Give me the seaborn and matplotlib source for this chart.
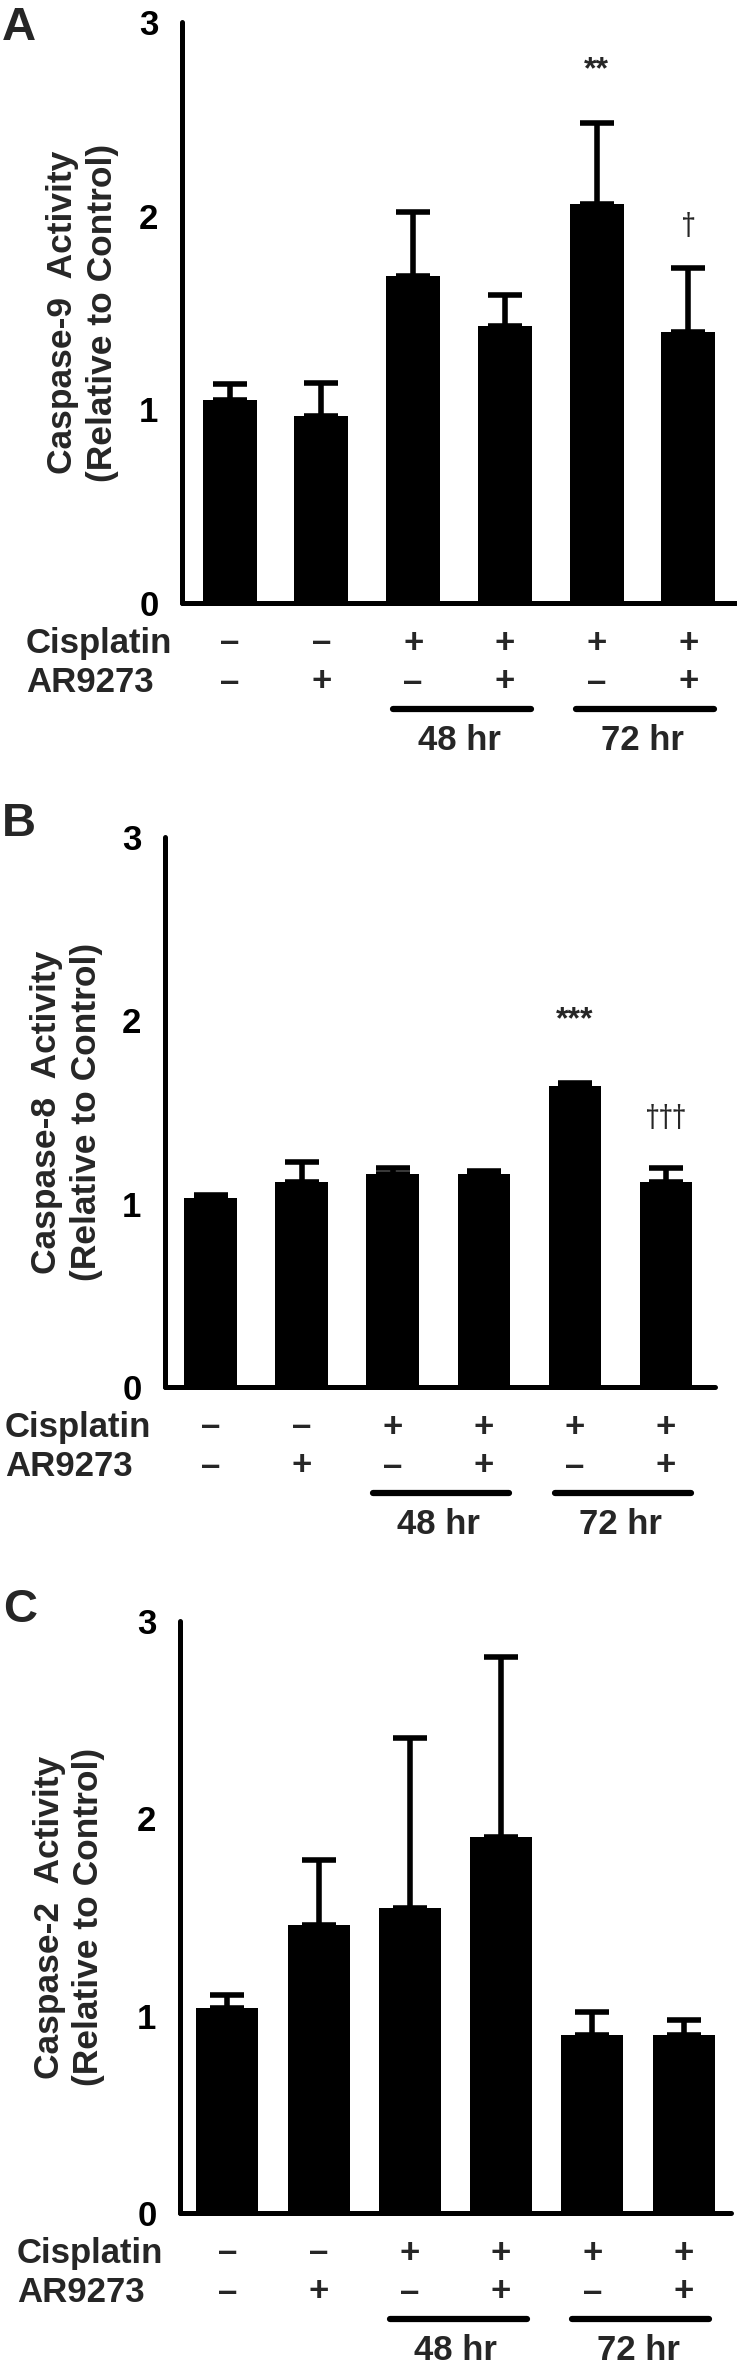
"""Caspase-9 / -8 / -2 activity bar panels (A, B, C)."""
import matplotlib
matplotlib.use("Agg")

import matplotlib.pyplot as plt
import numpy as np
import pandas as pd
import seaborn as sns

# ---------------------------------------------------------------------------
# Data
# ---------------------------------------------------------------------------

groups = ["g1", "g2", "g3", "g4", "g5", "g6"]
cisplatin = ["–", "–", "+", "+", "+", "+"]
ar9273 = ["–", "+", "–", "+", "–", "+"]
time_labels = ["48 hr", "72 hr"]
time_spans = [(2, 3), (4, 5)]

casp9_mean = [1.05, 0.965, 1.69, 1.43, 2.06, 1.40]
casp9_err = [0.08, 0.17, 0.33, 0.16, 0.42, 0.33]
casp9_marks = [(4, "**", 2.75), (5, "†", 1.96)]

casp8_mean = [1.03, 1.12, 1.16, 1.164, 1.64, 1.12]
casp8_err = [0.015, 0.11, 0.035, 0.016, 0.02, 0.075]
casp8_marks = [(4, "***", 2.0), (5, "†††", 1.48)]

casp2_mean = [1.04, 1.46, 1.545, 1.907, 0.90, 0.902]
casp2_err = [0.065, 0.33, 0.86, 0.913, 0.117, 0.076]
casp2_marks = []

yticks = [0, 1, 2, 3]

W, H = 737, 2370
ARIAL = ["Liberation Sans", "DejaVu Sans"]
DAGGER = ["Archivo Narrow", "Liberation Sans", "DejaVu Sans"]

sns.set_style("white")
plt.rcParams["font.family"] = ARIAL


def draw_panel(fig, letter, means, errs, marks, ylabel, box, bar_width,
               xlim, label_x, letter_xy, row_x):
    left, top, right, bottom = box  # pixel coordinates
    ax = fig.add_axes([left / W, 1 - bottom / H, (right - left) / W, (bottom - top) / H])
    ax_h = bottom - top

    df = pd.DataFrame({"group": groups, "value": means})
    sns.barplot(data=df, x="group", y="value", color="black", width=bar_width,
                saturation=1, errorbar=None, ax=ax, zorder=2)
    for p in ax.patches:
        p.set_edgecolor("none")
    x = np.arange(len(groups))
    ax.errorbar(x, means, yerr=[np.zeros(len(errs)), errs], fmt="none",
                ecolor="black", elinewidth=4, capsize=12, capthick=4, zorder=1)

    ax.set_ylim(0, 3)
    ax.set_xlim(*xlim)
    ax.set_yticks(yticks)
    ax.set_xticks([])
    ax.set_xlabel("")
    ax.set_ylabel(ylabel, fontsize=25.5, fontweight="bold", linespacing=1.25)
    ax.yaxis.set_label_coords(label_x, 0.5)
    for s in ["top", "right"]:
        ax.spines[s].set_visible(False)
    for s in ["left", "bottom"]:
        ax.spines[s].set_linewidth(3.6)
        ax.spines[s].set_color("black")
        ax.spines[s].set_capstyle("round")
    ax.tick_params(axis="y", direction="out", length=7, width=3.6, pad=10,
                   labelsize=25, colors="black")
    for t in ax.get_yticklabels():
        t.set_fontweight("bold")

    for i, txt, yv in marks:
        if "*" in txt:
            ax.text(i, yv, txt, ha="center", va="center", fontsize=23, fontweight="bold")
        else:
            ax.text(i, yv, txt, ha="center", va="center", fontsize=21, family=DAGGER)

    row_font = dict(fontsize=25, fontweight="bold", va="center")
    offsets = [40, 79, 106, 138]
    for i in range(len(groups)):
        ax.annotate(cisplatin[i], xy=(i, 0), xycoords=("data", "axes fraction"),
                    xytext=(0, -offsets[0]), textcoords="offset pixels",
                    ha="center", annotation_clip=False, **row_font)
        ax.annotate(ar9273[i], xy=(i, 0), xycoords=("data", "axes fraction"),
                    xytext=(0, -offsets[1]), textcoords="offset pixels",
                    ha="center", annotation_clip=False, **row_font)
    for name, y_off in [("Cisplatin", offsets[0]), ("AR9273", offsets[1])]:
        ax.annotate(name, xy=(row_x / W, 0), xycoords=("figure fraction", "axes fraction"),
                    xytext=(0, -y_off), textcoords="offset pixels",
                    ha="left", annotation_clip=False, **row_font)

    for name, (a, b) in zip(time_labels, time_spans):
        ax.plot([a - 0.22, b + 0.28], [-offsets[2] / ax_h] * 2,
                transform=ax.get_xaxis_transform(), clip_on=False,
                color="black", lw=4.5, solid_capstyle="round")
        ax.annotate(name, xy=((a + b) / 2, 0), xycoords=("data", "axes fraction"),
                    xytext=(0, -offsets[3]), textcoords="offset pixels",
                    ha="center", annotation_clip=False, **row_font)

    fig.text(letter_xy[0] / W, 1 - letter_xy[1] / H, letter, fontsize=34,
             fontweight="bold", ha="left", va="center")
    return ax


fig = plt.figure(figsize=(W / 100, H / 100), dpi=100)

draw_panel(fig, "A", casp9_mean, casp9_err, casp9_marks,
           "Caspase-9  Activity\n(Relative to Control)",
           box=(182, 22, 736, 603), bar_width=0.59, xlim=(-0.52, 5.52),
           label_x=-0.114, letter_xy=(2, 28), row_x=26)
draw_panel(fig, "B", casp8_mean, casp8_err, casp8_marks,
           "Caspase-8  Activity\n(Relative to Control)",
           box=(165, 837, 715, 1387), bar_width=0.575, xlim=(-0.5, 5.54),
           label_x=-0.113, letter_xy=(2, 824), row_x=5)
draw_panel(fig, "C", casp2_mean, casp2_err, casp2_marks,
           "Caspase-2  Activity\n(Relative to Control)",
           box=(180, 1621, 731, 2213), bar_width=0.68, xlim=(-0.52, 5.52),
           label_x=-0.136, letter_xy=(3, 1610), row_x=17)

fig.savefig("out.png", dpi=100)
